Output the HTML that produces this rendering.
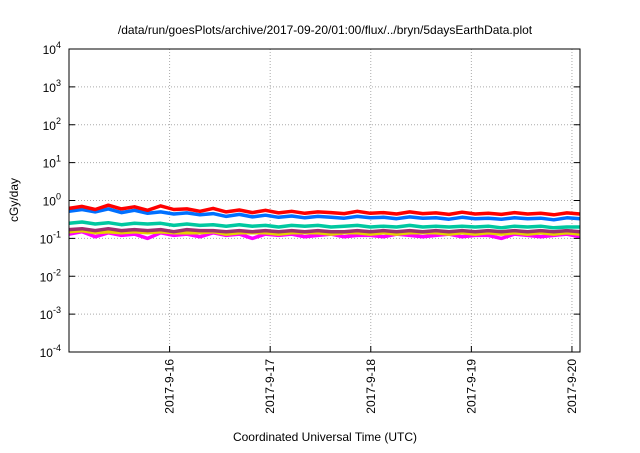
<!DOCTYPE html>
<html><head><meta charset="utf-8"><style>
body{margin:0;background:#fff;width:640px;height:448px;overflow:hidden}
svg{font-family:"Liberation Sans",sans-serif}
</style></head><body>
<svg id="chart" width="640" height="448" viewBox="0 0 640 448">
<text x="325" y="34" font-size="12" text-anchor="middle">/data/run/goesPlots/archive/2017-09-20/01:00/flux/../bryn/5daysEarthData.plot</text>
<g id="grid"></g>
<g id="series"></g>
<rect x="69" y="49" width="511" height="303" fill="none" stroke="#000" stroke-width="1"/>
<g id="yticks"></g>
<g id="xticks"></g>
<text transform="translate(18,200) rotate(-90)" font-size="12" text-anchor="middle">cGy/day</text>
<text x="325" y="441" font-size="12" text-anchor="middle">Coordinated Universal Time (UTC)</text>
</svg>
<script>
const yExps=[4,3,2,1,0,-1,-2,-3,-4];
const xTickDays=[1,2,3,4,5];
const xTickLabels=["2017-9-16","2017-9-17","2017-9-18","2017-9-19","2017-9-20"];
const seriesColors=["#ff00ff","#e6d000","#a0306e","#00c8a0","#0070ff","#ff0000"];
const redVals=[0.62,0.7,0.58,0.75,0.6,0.68,0.55,0.72,0.58,0.6,0.52,0.62,0.5,0.56,0.48,0.55,0.47,0.52,0.46,0.5,0.48,0.45,0.52,0.46,0.48,0.44,0.5,0.45,0.47,0.43,0.49,0.44,0.46,0.43,0.48,0.44,0.46,0.42,0.47,0.44];
const blueVals=[0.52,0.58,0.5,0.6,0.48,0.55,0.46,0.5,0.44,0.47,0.42,0.45,0.38,0.43,0.37,0.41,0.36,0.39,0.35,0.38,0.36,0.34,0.38,0.35,0.36,0.33,0.37,0.34,0.35,0.32,0.36,0.33,0.34,0.32,0.35,0.33,0.34,0.31,0.35,0.33];
const tealVals=[0.25,0.27,0.24,0.26,0.23,0.25,0.24,0.25,0.22,0.24,0.22,0.23,0.21,0.23,0.21,0.22,0.2,0.22,0.21,0.22,0.2,0.21,0.22,0.2,0.21,0.2,0.22,0.2,0.21,0.2,0.21,0.2,0.21,0.19,0.21,0.2,0.21,0.19,0.2,0.2];
const purpleVals=[0.17,0.18,0.16,0.18,0.16,0.17,0.16,0.17,0.15,0.17,0.16,0.16,0.15,0.16,0.15,0.16,0.15,0.16,0.15,0.16,0.15,0.15,0.16,0.15,0.16,0.15,0.16,0.15,0.16,0.15,0.16,0.15,0.16,0.15,0.16,0.15,0.16,0.15,0.16,0.15];
const yellowVals=[0.15,0.16,0.14,0.15,0.14,0.15,0.14,0.15,0.14,0.14,0.14,0.15,0.13,0.14,0.14,0.14,0.13,0.14,0.14,0.14,0.13,0.14,0.14,0.13,0.14,0.13,0.14,0.14,0.14,0.13,0.14,0.13,0.14,0.13,0.14,0.13,0.14,0.13,0.14,0.13];
const magentaVals=[0.13,0.15,0.11,0.14,0.12,0.13,0.1,0.14,0.12,0.13,0.11,0.14,0.12,0.13,0.1,0.13,0.12,0.13,0.11,0.12,0.13,0.11,0.12,0.12,0.11,0.13,0.12,0.11,0.12,0.13,0.11,0.12,0.12,0.1,0.13,0.12,0.11,0.12,0.13,0.11];
const xMin=0,xMax=5.08,L=69,R=580,T=49,B=352;
const sx=d=>L+(d-xMin)/(xMax-xMin)*(R-L);
const sy=v=>T+(4-Math.log10(v))/8*(B-T);
const NS="http://www.w3.org/2000/svg";
function mk(tag,attrs,parent){const e=document.createElementNS(NS,tag);for(const k in attrs)e.setAttribute(k,attrs[k]);parent.appendChild(e);return e;}
const grid=document.getElementById('grid'),yt=document.getElementById('yticks'),xt=document.getElementById('xticks'),sg=document.getElementById('series');
yExps.forEach(p=>{const y=sy(Math.pow(10,p));
 if(p<4&&p>-4){const g=mk('line',{x1:L,x2:R,y1:y,y2:y,stroke:'#aaa','stroke-dasharray':'1,2'},grid);
 
 }
 const t=mk('line',{x1:L,x2:L+6,y1:y,y2:y,stroke:'#000'},yt);
 
 
 const t2=mk('line',{x1:R,x2:R-6,y1:y,y2:y,stroke:'#000'},yt);
 
 
 const tx=mk('text',{x:L-8,y:y+5,'font-size':'12','text-anchor':'end'},yt);
 
 
 tx.innerHTML='10<tspan dy="-6" font-size="9">'+p+'</tspan>';});
xTickDays.forEach((d,i)=>{const x=sx(d);
 const g=mk('line',{x1:x,x2:x,y1:T,y2:B,stroke:'#aaa','stroke-dasharray':'1,2'},grid);
 
 
 const t=mk('line',{x1:x,x2:x,y1:B,y2:B-6,stroke:'#000'},xt);
 
 
 const tx=mk('text',{transform:`translate(${x+4},${B+7}) rotate(-90)`,'font-size':'12','text-anchor':'end'},xt);
 
 
 tx.textContent=xTickLabels[i];});
const allSeries=[magentaVals,yellowVals,purpleVals,tealVals,blueVals,redVals];
const names=['magenta-series','yellow-series','purple-series','teal-series','blue-series','red-series'];
allSeries.forEach((vals,si)=>{
 const pts=vals.map((v,i)=>sx(xMin+i*(xMax-xMin)/(vals.length-1)).toFixed(1)+','+sy(v).toFixed(1)).join(' ');
 const pl=mk('polyline',{points:pts,fill:'none',stroke:seriesColors[si],'stroke-width':3.5,'stroke-linejoin':'round'},sg);
 
 });
</script>
</body></html>
